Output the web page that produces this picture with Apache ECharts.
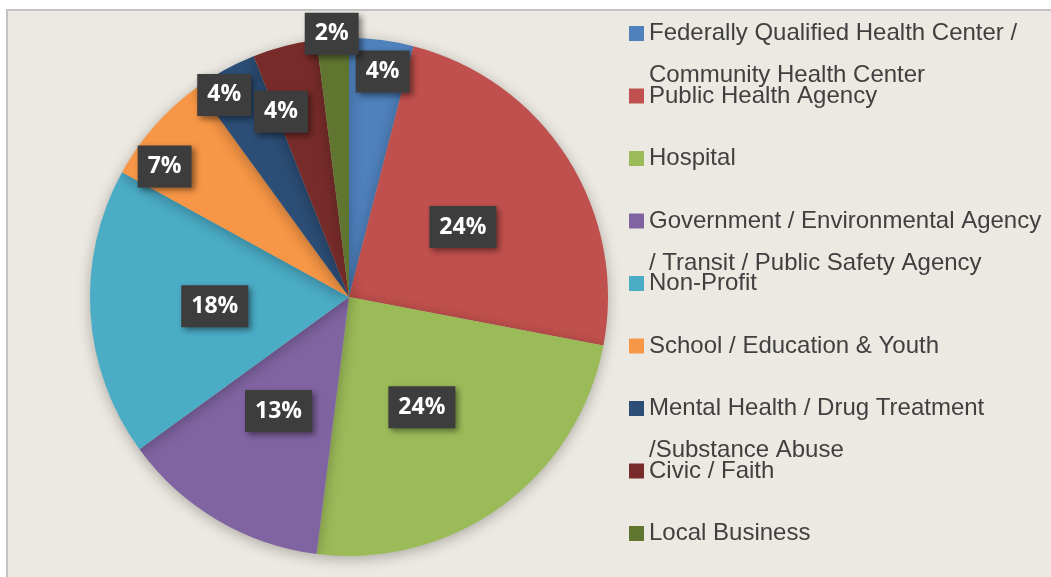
<!DOCTYPE html>
<html>
<head>
<meta charset="utf-8">
<script src="https://cdn.jsdelivr.net/npm/echarts@6/dist/echarts.min.js"></script>
<style>
  html, body { margin: 0; padding: 0; background: #ffffff; }
  #chart {
    position: absolute; left: 6px; top: 9px; width: 1045px; height: 568px;
    box-sizing: border-box; border-left: 2px solid #c3c3c3; border-top: 2px solid #c3c3c3;
  }
</style>
</head>
<body>
<div id="chart"></div>
<script>
// categories (legend text) and share of respondents in percent
var categories = [
  'Federally Qualified Health Center /\nCommunity Health Center',
  'Public Health Agency',
  'Hospital',
  'Government / Environmental Agency\n/ Transit / Public Safety Agency',
  'Non-Profit',
  'School / Education & Youth',
  'Mental Health / Drug Treatment\n/Substance Abuse',
  'Civic / Faith',
  'Local Business'
];
var values = [4, 24, 24, 13, 18, 7, 4, 4, 2];
var colors = ['#4f81bd', '#c0504d', '#9bbb59', '#8064a2', '#4bacc6', '#f79646', '#2c4d75', '#772c2a', '#5f7530'];
// label nudges for the thin slices, so they sit like in the original
var labelNudge = [[17, -94], [2, 1], [-5, 3], [-3, 0], [-2, 1], [-85, -43], [-61, -86], [-35, -57], [-9, -131]];

var myChart = echarts.init(document.getElementById('chart'));

var legends = categories.map(function (name, i) {
  return {
    data: [name],
    orient: 'vertical',
    left: 621,
    top: 33.5 + 62.5 * i - 11 - 63,
    padding: 0,
    itemWidth: 15,
    itemHeight: 15,
    icon: 'rect',
    selectedMode: false,
    formatter: function (n) {
      return '\n' + n + (n.indexOf('\n') >= 0 ? '' : '\n');
    },
    textStyle: {
      fontFamily: 'Liberation Sans, Arial, sans-serif',
      fontSize: 24,
      lineHeight: 42,
      color: '#404040'
    }
  };
});

var option = {
  backgroundColor: '#ece9e2',
  color: colors,
  legend: legends,
  series: [{
    type: 'pie',
    center: [341, 286],
    radius: 259,
    startAngle: 90,
    clockwise: true,
    animation: false,
    itemStyle: {
      shadowBlur: 14,
      shadowColor: 'rgba(0,0,0,0.28)',
      shadowOffsetY: 3
    },
    emphasis: { disabled: true },
    labelLine: { show: false },
    label: {
      show: true,
      position: 'inside',
      formatter: '{c}%',
      fontFamily: 'Open Sans, sans-serif',
      fontWeight: 'bold',
      fontSize: 23,
      lineHeight: 24,
      color: '#ffffff',
      backgroundColor: '#3d3d3d',
      padding: [9, 10, 9, 10],
      shadowColor: 'rgba(0,0,0,0.45)',
      shadowBlur: 6,
      shadowOffsetX: 3,
      shadowOffsetY: 3
    },
    labelLayout: function (params) {
      var n = labelNudge[params.dataIndex];
      return { dx: n[0], dy: n[1] };
    },
    data: categories.map(function (name, i) {
      return { name: name, value: values[i] };
    })
  }]
};

myChart.setOption(option);
window.addEventListener('resize', myChart.resize);
</script>
</body>
</html>
